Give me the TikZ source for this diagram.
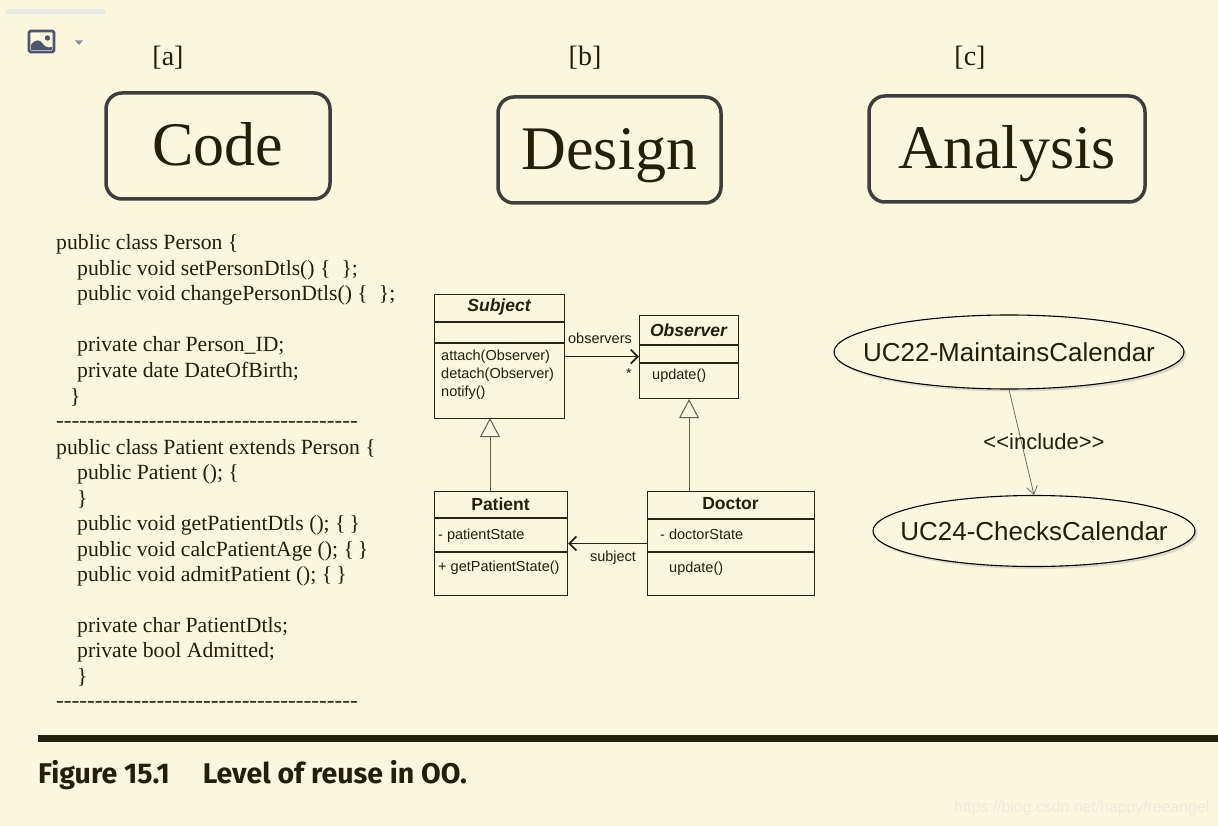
\documentclass[tikz,border=0pt]{standalone}
\usepackage{fontspec}
\setmainfont{Liberation Serif}
\setsansfont{Liberation Sans}
\newfontfamily\capfont{Fira Sans}
\usetikzlibrary{arrows.meta,shapes.geometric,shadows}
\definecolor{bg}{RGB}{250,247,222}
\definecolor{ink}{RGB}{34,32,10}
\definecolor{uml}{RGB}{40,38,25}
\definecolor{boxline}{RGB}{62,62,60}
\definecolor{inhline}{RGB}{95,95,85}
\definecolor{iconcol}{RGB}{76,84,110}
\definecolor{icontri}{RGB}{140,143,158}
\definecolor{barcol}{RGB}{232,232,229}
\definecolor{wmark}{RGB}{236,234,220}
\definecolor{inclcol}{RGB}{110,110,100}
\newcount\hycount
\newcommand\hyrow[1]{\hycount=0 \loop -\kern0pt\advance\hycount by 1 \ifnum\hycount<#1\repeat}
\begin{document}
\begin{tikzpicture}[x=1pt,y=-1pt,
  code/.style={anchor=base west,inner sep=0,text=ink,font=\fontsize{21.7}{25}\selectfont},
  tag/.style={inner sep=0,text=ink,font=\fontsize{28}{30}\selectfont},
  bigbox/.style={draw=boxline,line width=3.5,rounded corners=16,inner sep=0,
    font=\fontsize{62}{62}\selectfont,text=ink,text height=40,text depth=0},
  umlbox/.style={draw=uml,line width=1.1,inner sep=0,anchor=north west},
  divider/.style={draw=uml,line width=1.1},
  utitle/.style={inner sep=0,text=ink,font=\sffamily\bfseries\fontsize{17.5}{20}\selectfont},
  utext/.style={anchor=base west,inner sep=0,text=ink,font=\sffamily\fontsize{14.5}{17}\selectfont},
  assoc/.style={draw=uml,line width=1.8,-{Straight Barb[length=7pt,width=14pt]}},
  inh/.style={draw=inhline,line width=1,-{Triangle[open,length=19pt,width=20pt,fill=bg]}},
  usecase/.style={ellipse,draw=black,line width=1.1,fill=bg,inner sep=0,
    drop shadow={shadow xshift=2.5pt,shadow yshift=-2.5pt,opacity=0.25,fill=gray}},
  uctext/.style={inner sep=0,text=ink,font=\sffamily\fontsize{26}{28}\selectfont},
  incl/.style={draw=inclcol,line width=0.8,-{Straight Barb[length=8pt,width=11pt]}}
]
\path[fill=bg] (0,0) rectangle (1218,826);
\useasboundingbox (0,0) rectangle (1218,826);

% UI residue at top-left
\draw[barcol,line width=5,line cap=round] (8,12) -- (103,12);
\draw[iconcol,line width=2.6,rounded corners=1.5] (29,31) rectangle (54,52);
\fill[iconcol] (31,50) -- (31,45) .. controls (35,39) and (40,39) .. (43,44)
  .. controls (45,47) and (48,48) .. (52,47) -- (52,50) -- cycle;
\fill[iconcol] (47.5,38) circle (2.7);
\fill[icontri] (75,40.5) -- (83,40.5) -- (79,45) -- cycle;

% Tags
\node[tag] (ta) at (168,58) {[a]};
\node[tag] (tb) at (585,58) {[b]};
\node[tag] (tc) at (970,58) {[c]};

% Big boxes
\node[bigbox,minimum width=224,minimum height=106] (code) at (218,146) {Code};
\node[bigbox,minimum width=223,minimum height=106] (design) at (609.5,150) {Design};
\node[bigbox,minimum width=276,minimum height=106] (analysis) at (1007,149) {Analysis};

% Code listing
\node[code] (c1) at (56,250) {public class Person \{};
\node[code] (c2) at (77,275.5) {public void setPersonDtls() \{\hspace{11pt}\};};
\node[code] (c3) at (77,301) {public void changePersonDtls() \{\hspace{11pt}\};};
\node[code] (c4) at (77,352) {private char Person\_ID;};
\node[code] (c5) at (77,377.5) {private date DateOfBirth;};
\node[code] (c6) at (70,403) {\}};
\node[code] (c7) at (56,427) {\scalebox{1.07}[1]{\hyrow{39}}};
\node[code] (c8) at (56,454) {public class Patient extends Person \{};
\node[code] (c9) at (77,479) {public Patient (); \{};
\node[code] (c10) at (77,505) {\}};
\node[code] (c11) at (77,530) {public void getPatientDtls (); \{\hspace{4pt}\}};
\node[code] (c12) at (77,556) {public void calcPatientAge (); \{\hspace{4pt}\}};
\node[code] (c13) at (77,581) {public void admitPatient (); \{\hspace{4pt}\}};
\node[code] (c14) at (77,632) {private char PatientDtls;};
\node[code] (c15) at (77,657) {private bool Admitted;};
\node[code] (c16) at (77,683) {\}};
\node[code] (c17) at (56,707) {\scalebox{1.07}[1]{\hyrow{39}}};

% UML classes
\node[umlbox,minimum width=130,minimum height=124] (subj) at (434,294) {};
\draw[divider] (434,322) -- (564,322);
\draw[divider] (434,343) -- (564,343);
\node[utitle] (subjt) at (499,307) {\itshape Subject};
\node[utext] (s1) at (441,360) {attach(Observer)};
\node[utext] (s2) at (441,378) {detach(Observer)};
\node[utext] (s3) at (441,396) {notify()};

\node[umlbox,minimum width=99,minimum height=83] (obs) at (639,315) {};
\draw[divider] (639,345) -- (738,345);
\draw[divider] (639,363) -- (738,363);
\node[utitle] (obst) at (688.5,330) {\itshape Observer};
\node[utext] (o1) at (652,379) {update()};

\node[umlbox,minimum width=133,minimum height=104] (pat) at (434,491) {};
\draw[divider] (434,518) -- (567,518);
\draw[divider] (434,552) -- (567,552);
\node[utitle] (patt) at (500.5,504) {Patient};
\node[utext] (p1) at (438,539) {- patientState};
\node[utext] (p2) at (438,571) {+ getPatientState()};

\node[umlbox,minimum width=167,minimum height=104] (doc) at (647,491) {};
\draw[divider] (647,519) -- (814,519);
\draw[divider] (647,552) -- (814,552);
\node[utitle] (doct) at (730.5,504) {Doctor};
\node[utext] (d1) at (660,539) {- doctorState};
\node[utext] (d2) at (669,572) {update()};

% UML connectors
\draw[assoc] (subj.east) -- (obs.west |- subj.east);
\node[utext,anchor=center] (lobs) at (600,338) {observers};
\node[utext,anchor=center] (lstar) at (629,374) {*};
\draw[assoc] (doc.west) -- (pat.east |- doc.west);
\node[utext,anchor=center] (lsub) at (613,558) {subject};
\coordinate (inhs) at (490,418);
\draw[inh] (pat.north -| inhs) -- (inhs);
\draw[inh] (doc.north -| obs.south) -- (obs.south);

% Use cases
\node[usecase,minimum width=350,minimum height=74] (uc22) at (1009,352) {};
\node[uctext] (uc22t) at (uc22.center) {UC22-MaintainsCalendar};
\node[usecase,minimum width=322,minimum height=71] (uc24) at (1034,531) {};
\node[uctext] (uc24t) at (uc24.center) {UC24-ChecksCalendar};
\draw[incl] (uc22.south) -- (uc24.north);
\node[inner sep=0,text=ink,font=\sffamily\fontsize{22}{24}\selectfont] (linc) at (1044,442) {<{}<include>{}>};

% Rule and caption
\coordinate (rl) at (38,738.5);
\coordinate (rr) at (1218,738.5);
\draw[ink,line width=6.5] (rl) -- (rr);
\node[anchor=base west,inner sep=0,text=ink,font=\capfont\bfseries\fontsize{28.5}{31}\selectfont] (cap) at (38,783)
  {Figure 15.1\hspace{33pt}Level of reuse in OO.};

% Watermark
\node[anchor=base west,inner sep=0,text=wmark,font=\sffamily\fontsize{15}{17}\selectfont] (wm) at (954,812)
  {\resizebox{255pt}{!}{https://blog.csdn.net/happyfreeangel}};
\end{tikzpicture}
\end{document}
